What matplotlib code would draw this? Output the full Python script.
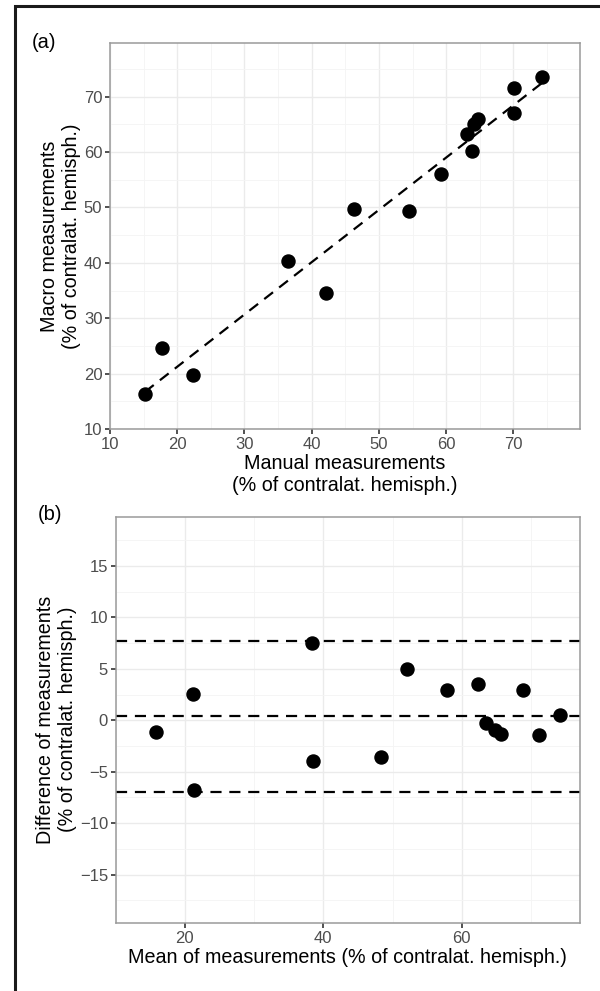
import numpy as np
import matplotlib
matplotlib.use("Agg")
import matplotlib.pyplot as plt
from matplotlib.patches import Rectangle

plt.rcParams['font.family'] = ['Liberation Sans', 'DejaVu Sans']

# panel (a): manual vs macro measurements (% of contralateral hemisphere)
manual = [15.2, 17.8, 22.4, 36.5, 42.1, 46.3, 54.5, 59.2, 63.1, 63.9, 64.2, 64.8, 70.1, 70.1, 74.3]
macro = [16.3, 24.6, 19.8, 40.4, 34.5, 49.8, 49.3, 56.1, 63.2, 60.2, 65.0, 65.9, 71.6, 67.1, 73.5]

# panel (b): Bland-Altman, mean vs difference
ba_mean = [15.77, 21.15, 21.29, 38.39, 38.57, 48.28, 52.05, 57.84, 62.30, 63.45, 64.83, 65.61, 68.87, 71.17, 74.16]
ba_diff = [-1.10, 2.58, -6.77, 7.52, -3.97, -3.55, 4.97, 2.97, 3.48, -0.23, -0.97, -1.35, 2.97, -1.48, 0.55]
ba_lines = [7.72, 0.37, -6.98]   # upper limit, bias, lower limit

xticks_a = [10, 20, 30, 40, 50, 60, 70]
yticks_a = [10, 20, 30, 40, 50, 60, 70]
xticks_b = [20, 40, 60]
yticks_b = [-15, -10, -5, 0, 5, 10, 15]

unit = "(% of contralat. hemisph.)"


def style_panel(ax):
    ax.set_facecolor("white")
    for s in ax.spines.values():
        s.set_color("#9a9a9a")
        s.set_linewidth(1.1)
    ax.grid(True, which="major", color="#ebebeb", lw=1.0)
    ax.grid(True, which="minor", color="#f4f4f4", lw=0.6)
    ax.set_axisbelow(True)
    ax.tick_params(which="major", length=3.5, width=1.2, color="#333333",
                   labelsize=12, labelcolor="#4d4d4d", pad=2)
    ax.tick_params(which="minor", length=0)


fig = plt.figure(figsize=(6, 9.91), dpi=100)

# outer frame
fig.patches.append(Rectangle((15 / 600, -0.05), 1.1, 1 - 6 / 991 + 0.05,
                             transform=fig.transFigure, fill=False,
                             edgecolor="#1a1a1a", lw=2.2))

# ---- (a)
ax1 = fig.add_axes([110 / 600, 1 - 429 / 991, 470 / 600, 386 / 991])
style_panel(ax1)
ax1.plot(manual, macro, "o", color="black", ms=9.4, zorder=3)
k, b = np.polyfit(manual, macro, 1)
xs = np.array([min(manual), max(manual)])
ax1.plot(xs, k * xs + b, color="black", lw=1.6, dashes=(5, 3.5), zorder=2)
ax1.set_xlim(10, 79.9)
ax1.set_ylim(10, 79.7)
ax1.set_xticks(xticks_a)
ax1.set_yticks(yticks_a)
ax1.set_xticks(np.arange(15, 80, 10), minor=True)
ax1.set_yticks(np.arange(15, 80, 10), minor=True)
ax1.set_xlabel("Manual measurements\n" + unit, fontsize=14.2, labelpad=2,
               linespacing=1.2)
ax1.set_ylabel("Macro measurements\n" + unit, fontsize=14.2, labelpad=2,
               linespacing=1.2)
fig.text(44 / 600, 1 - 43 / 991, "(a)", fontsize=14.5, ha="center", va="center")

# ---- (b)
ax2 = fig.add_axes([115.7 / 600, 1 - 923 / 991, 464.3 / 600, 406.5 / 991])
style_panel(ax2)
for yl in ba_lines:
    ax2.axhline(yl, color="black", lw=1.6, dashes=(5, 3.5), zorder=2)
ax2.plot(ba_mean, ba_diff, "o", color="black", ms=9.4, zorder=3)
pad = 0.05 * (max(ba_mean) - min(ba_mean))
ax2.set_xlim(min(ba_mean) - pad, max(ba_mean) + pad)
ax2.set_ylim(-19.7, 19.8)
ax2.set_xticks(xticks_b)
ax2.set_yticks(yticks_b)
ax2.set_xticks([10, 30, 50, 70], minor=True)
ax2.set_yticks([-17.5, -12.5, -7.5, -2.5, 2.5, 7.5, 12.5, 17.5], minor=True)
ax2.set_xlabel("Mean of measurements " + unit, fontsize=14.2, labelpad=2)
ax2.set_ylabel("Difference of measurements\n" + unit, fontsize=14.2, labelpad=2,
               linespacing=1.2)
fig.text(50 / 600, 1 - 515 / 991, "(b)", fontsize=14.5, ha="center", va="center")

fig.savefig("out.png", dpi=100, facecolor="white")
